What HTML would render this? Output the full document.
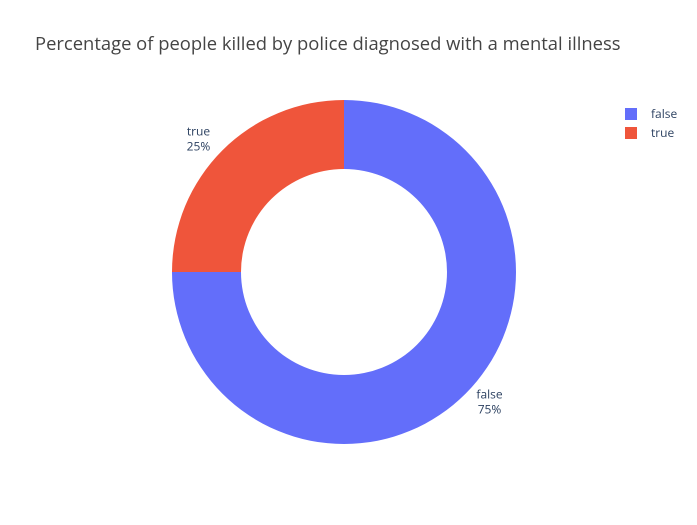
<!DOCTYPE html>
<html>
<head>
<meta charset="utf-8">
<style>
  body{margin:0;background:#fff;}
  svg{display:block;font-family:"Open Sans","Liberation Sans",sans-serif;}
</style>
</head>
<body>
<svg id="chart" width="697" height="525">
  <rect width="697" height="525" fill="#fff"></rect>
  <text x="35" y="50" font-size="18.4" fill="#444">Percentage of people killed by police diagnosed with a mental illness</text>
  <g id="slices"></g>
  <g id="labels"></g>
  <g id="legend"></g>
</svg>
<script>
const categories = ["false", "true"];
const values = [75, 25];
const colors = ["#636efa", "#ef553b"];

const cx = 344, cy = 272, R = 172, r = 103;
const NS = "http://www.w3.org/2000/svg";
const total = values.reduce((a, b) => a + b, 0);
function pt(rad, ang) { return [cx + rad * Math.sin(ang), cy - rad * Math.cos(ang)]; }
const slicesG = document.getElementById("slices");
const labelsG = document.getElementById("labels");
const legendG = document.getElementById("legend");
let a0 = 0;
categories.forEach((c, i) => {
  const a1 = a0 + values[i] / total * 2 * Math.PI;
  const large = (a1 - a0) > Math.PI ? 1 : 0;
  const [x0, y0] = pt(R, a0), [x1, y1] = pt(R, a1), [x2, y2] = pt(r, a1), [x3, y3] = pt(r, a0);
  const p = document.createElementNS(NS, "path");
  p.setAttribute("d", `M${x0},${y0} A${R},${R} 0 ${large} 1 ${x1},${y1} L${x2},${y2} A${r},${r} 0 ${large} 0 ${x3},${y3} Z`);
  p.setAttribute("fill", colors[i]);
  
  
  slicesG.appendChild(p);
  const mid = (a0 + a1) / 2;
  const [lx, ly] = pt(R + 14, mid);
  const pct = Math.round(values[i] / total * 100) + "%";
  const t = document.createElementNS(NS, "text");
  t.setAttribute("font-size", "12");
  t.setAttribute("fill", "#2a3f5f");
  t.setAttribute("text-anchor", "middle");
  
  
  const off = Math.sin(mid) >= 0 ? 14 : -14;
  const tx = lx + off;
  const ty = ly - 3;
  const s1 = document.createElementNS(NS, "tspan");
  s1.setAttribute("x", tx); s1.setAttribute("y", ty - 2); s1.textContent = c;
  const s2 = document.createElementNS(NS, "tspan");
  s2.setAttribute("x", tx); s2.setAttribute("y", ty + 13); s2.textContent = pct;
  t.appendChild(s1); t.appendChild(s2);
  labelsG.appendChild(t);
  const ly2 = 114 + i * 19;
  const sq = document.createElementNS(NS, "rect");
  sq.setAttribute("x", 625); sq.setAttribute("y", ly2 - 6);
  sq.setAttribute("width", 12); sq.setAttribute("height", 12);
  sq.setAttribute("fill", colors[i]);
  
  
  legendG.appendChild(sq);
  const lt = document.createElementNS(NS, "text");
  lt.setAttribute("x", 651); lt.setAttribute("y", ly2 + 4);
  lt.setAttribute("font-size", "12"); lt.setAttribute("fill", "#2a3f5f");
  lt.textContent = c;
  
  
  legendG.appendChild(lt);
  a0 = a1;
});
</script>
</body>
</html>
